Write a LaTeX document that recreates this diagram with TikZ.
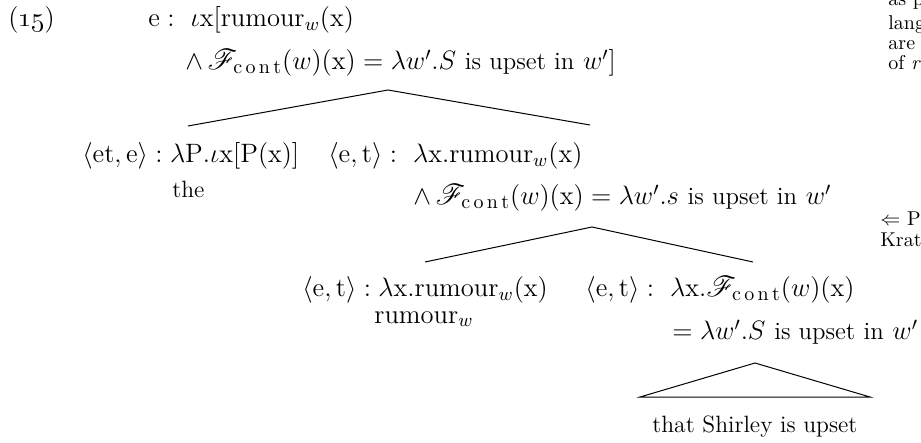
\RequirePackage{fix-cm}
\documentclass[tikz,border=0pt]{standalone}
\usepackage{amsmath}
\usepackage{amssymb}
\usepackage{mathrsfs}
\usetikzlibrary{positioning}

\newcommand{\Fcont}{\mathscr{F}_{\mbox{\fontsize{10}{11}\selectfont c\,o\,n\,t}}}
\newcommand{\rumw}{\mathrm{rumour}_w}
\newcommand{\vx}{\mathrm{x}}
\newcommand{\txt}[1]{\text{\fontsize{12.4}{14}\selectfont #1}}

\begin{document}
\begin{tikzpicture}[x=0.5pt, y=-0.5pt,
  lbl/.style={anchor=base west, inner sep=0pt, font=\fontsize{13.3}{15}\selectfont},
  word/.style={lbl, font=\fontsize{11.8}{14}\selectfont},
  note/.style={anchor=base west, inner sep=0pt, font=\fontsize{10}{12}\selectfont},
  branch/.style={line width=0.5pt},
]
  \useasboundingbox (0,0) rectangle (921,443);
  \clip (0,0) rectangle (921,443);

  % example number and root
  \node[lbl] (num) at (8,27) {(\oldstylenums{15})};
  \node[lbl] (r1) at (148,27) {$\mathrm{e}:\ \iota\vx[\rumw(\vx)$};
  \node[lbl] (r2) at (185,70) {$\wedge\,\Fcont(w)(\vx)=\lambda w'.S$ \txt{is upset in} $w']$};

  % first split
  \node[lbl] (a1) at (82,163) {$\langle\mathrm{et},\mathrm{e}\rangle:\lambda\mathrm{P}.\iota\vx[\mathrm{P}(\vx)]$};
  \node[word] (a2) at (172,198) {the};
  \node[lbl] (b1) at (328,163) {$\langle\mathrm{e},\mathrm{t}\rangle:\ \lambda\vx.\rumw(\vx)$};
  \node[lbl] (b2) at (413,205) {$\wedge\,\Fcont(w)(\vx)=\lambda w'.s$ \txt{is upset in} $w'$};

  % second split
  \node[lbl] (c1) at (302,297) {$\langle\mathrm{e},\mathrm{t}\rangle:\lambda\vx.\rumw(\vx)$};
  \node[lbl] (c2) at (374,323) {$\rumw$};
  \node[lbl] (d1) at (585,297) {$\langle\mathrm{e},\mathrm{t}\rangle:\ \lambda\vx.\Fcont(w)(\vx)$};
  \node[lbl] (d2) at (672,340) {$=\lambda w'.S$ \txt{is upset in} $w'$};
  \node[word] (e1) at (652,432) {that Shirley is upset};

  % margin text
  \node[note] (m1) at (888,6) {as pr};
  \node[note] (m2) at (888,30) {langu};
  \node[note] (m3) at (888,50) {are in};
  \node[note] (m4) at (888,70) {of \textit{ru}};
  \node[note] (m5) at (880,226) {$\Leftarrow$ Pr};
  \node[note] (m6) at (880,247) {Kratz};

  \coordinate (r-top) at (388,90);
  \coordinate (r-l) at (188,126);
  \coordinate (r-r) at (590,125);
  \coordinate (b-top) at (592,227);
  \coordinate (b-l) at (425,262);
  \coordinate (b-r) at (753,262);
  \coordinate (t-top) at (755,363);
  \coordinate (t-l) at (640,397);
  \coordinate (t-r) at (870,397);

  \draw[branch] (r-l) -- (r-top) -- (r-r);
  \draw[branch] (b-l) -- (b-top) -- (b-r);
  \draw[branch] (t-l) -- (t-top) -- (t-r) -- cycle;
\end{tikzpicture}
\end{document}
